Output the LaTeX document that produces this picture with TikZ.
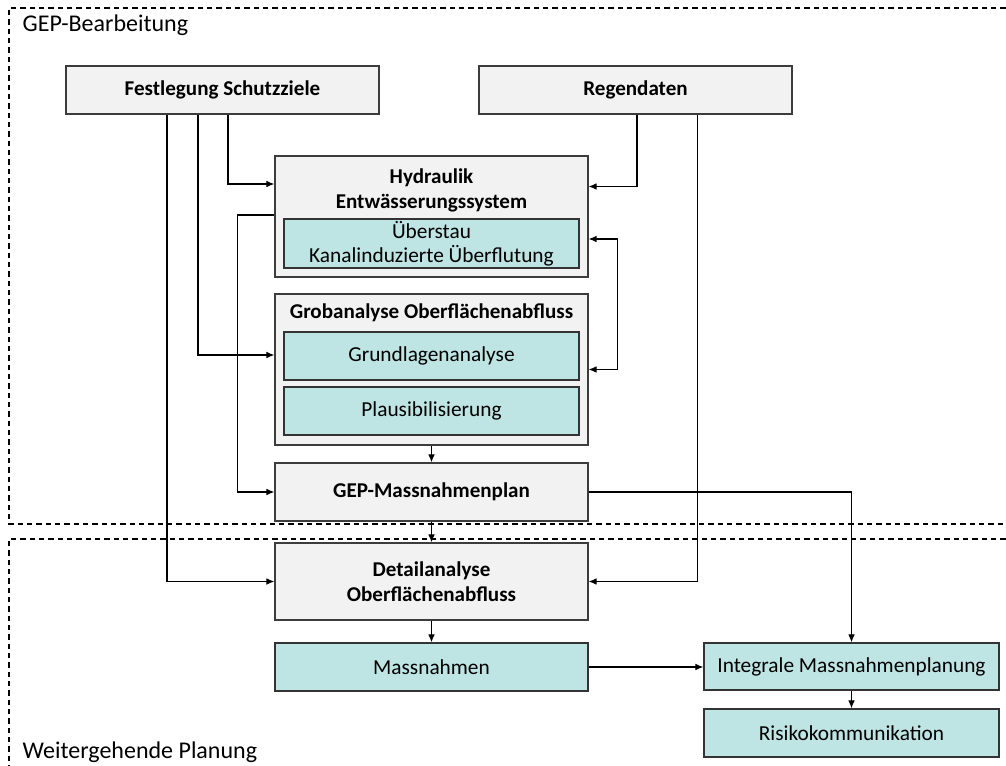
\documentclass[tikz,border=0pt]{standalone}
\usepackage{fontspec}
\setmainfont{Carlito}
\usepackage{tikz}
\usetikzlibrary{arrows.meta,positioning,calc}
\definecolor{gepgray}{RGB}{242,242,242}
\definecolor{gepteal}{RGB}{190,228,228}
\definecolor{gepline}{RGB}{60,60,60}
\tikzset{
  graybox/.style={draw=gepline, line width=1pt, fill=gepgray, inner sep=0pt, align=center, font=\fontsize{15.8}{18.75}\selectfont\bfseries},
  tealbox/.style={draw=black!80, line width=1pt, fill=gepteal, inner sep=0pt, align=center, font=\fontsize{16}{18.2}\selectfont},
  arr/.style={-{Latex[length=6pt,width=5pt]}, line width=0.8pt},
  zone/.style={dashed, line width=0.8pt, dash pattern=on 4pt off 3pt}
}

\begin{document}
\begin{tikzpicture}[x=0.75pt, y=-0.75pt]
\useasboundingbox (0,0) rectangle (1006,766);
% Bereiche
\draw[zone] (1015,8) -| (9,524) -- (1015,524);
\draw[zone] (1015,539) -| (9,775);
\node[anchor=base west, font=\fontsize{18}{22}\selectfont] (lblgep) at (18,32) {GEP-Bearbeitung};
\node[anchor=base west, font=\fontsize{18}{22}\selectfont] (lblweiter) at (18,758) {Weitergehende Planung};

% Eingangsdaten
\node[graybox, minimum width=234.75pt, minimum height=36pt] (schutz) at (222.5,90) {Festlegung Schutzziele};
\node[graybox, minimum width=234.75pt, minimum height=36pt] (regen) at (635.5,90) {Regendaten};

% Hydraulik
\node[graybox, minimum width=234.75pt, minimum height=90.75pt] (hydr) at (431.5,216.5) {};
\node[font=\fontsize{15.8}{18.75}\selectfont\bfseries, align=center] (hydrtitle) at (431.5,190) {Hydraulik\\Entwässerungssystem};
\node[tealbox, minimum width=221.25pt, minimum height=36.75pt] (ueber) at (431.5,243.5) {Überstau\\Kanalinduzierte Überflutung};

% Grobanalyse
\node[graybox, minimum width=234.75pt, minimum height=113.25pt] (grob) at (431.5,369.5) {};
\node[font=\fontsize{15.8}{18.75}\selectfont\bfseries] (grobtitle) at (431.5,313) {Grobanalyse Oberflächenabfluss};
\node[tealbox, minimum width=221.25pt, minimum height=36pt] (grund) at (431.5,356) {Grundlagenanalyse};
\node[tealbox, minimum width=221.25pt, minimum height=36pt] (plaus) at (431.5,411) {Plausibilisierung};

\node[graybox, minimum width=234.75pt, minimum height=43.5pt] (gepplan) at (431.5,492) {GEP-Massnahmenplan};
\node[graybox, minimum width=234.75pt, minimum height=57.75pt] (detail) at (431.5,581.5) {Detailanalyse\\Oberflächenabfluss};
\node[tealbox, minimum width=234.75pt, minimum height=36pt] (mass) at (431.5,667) {Massnahmen};
\node[tealbox, minimum width=221.25pt, minimum height=35.25pt] (integ) at (851.5,666.5) {Integrale Massnahmenplanung};
\node[tealbox, minimum width=221.25pt, minimum height=36pt] (risiko) at (851.5,733) {Risikokommunikation};

% Verbindungen
\draw[arr] ($(schutz.south)+(5.5,0)$) |- ($(hydr.west)+(0,-32.5)$);
\draw[arr] ($(schutz.south)+(-24.5,0)$) |- ($(grob.west)+(0,-14.5)$);
\draw[arr] ($(schutz.south)+(-55.5,0)$) |- (detail.west);
\draw[arr] ($(hydr.west)+(0,-1.5)$) -| ($(gepplan.west)+(-37,0)$) -- (gepplan.west);
\draw[arr] ($(regen.south)+(1.5,0)$) |- ($(hydr.east)+(0,-30)$);
\draw[arr] ($(regen.south)+(62,0)$) |- (detail.east);
\draw[arr, {Latex[length=6pt,width=5pt]}-{Latex[length=6pt,width=5pt]}] ($(hydr.east)+(0,22.5)$) -- ++(29,0) |- (grob.east);
\draw[arr] (grob.south) -- (gepplan.north);
\draw[arr] (gepplan.south) -- (detail.north);
\draw[arr] (gepplan.east) -| (integ.north);
\draw[arr] (detail.south) -- (mass.north);
\draw[arr] (mass.east) -- (mass.east -| integ.west);
\draw[arr] (integ.south) -- (risiko.north);
\end{tikzpicture}
\end{document}
